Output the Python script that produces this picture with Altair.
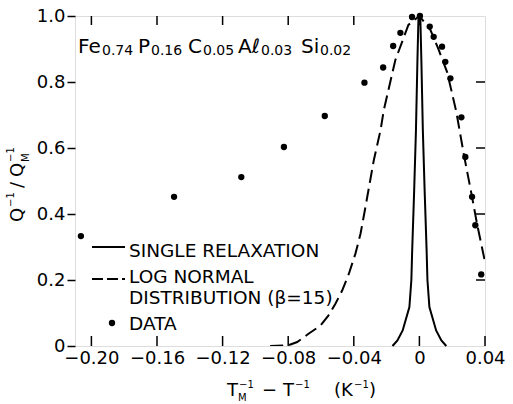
import altair as alt
import pandas as pd

# ---------------- data ----------------
data_x = [-0.2064, -0.1496, -0.1086, -0.0826, -0.0577, -0.0335, -0.0221, -0.0160, -0.0116,
          -0.0045, 0.0003, 0.0063, 0.0087, 0.0138, 0.0158, 0.0189, 0.0256, 0.0280, 0.0321,
          0.0341, 0.0377]
data_y = [0.333, 0.452, 0.512, 0.603, 0.697, 0.798, 0.844, 0.909, 0.949,
          0.997, 1.000, 0.968, 0.937, 0.907, 0.861, 0.811, 0.693, 0.573, 0.452,
          0.366, 0.217]

single_x = [-0.0164, -0.0134, -0.0102, -0.0061, -0.0049, -0.0044, -0.0032, -0.0021, -0.0012,
            -0.0006, 0.0, 0.0006, 0.0012, 0.0021, 0.0032, 0.0044, 0.0049, 0.0061, 0.0102,
            0.0134, 0.0164]
single_y = [0.0, 0.017, 0.047, 0.118, 0.20, 0.29, 0.47, 0.654, 0.866,
            0.988, 1.0, 0.988, 0.866, 0.654, 0.47, 0.29, 0.20, 0.118, 0.047,
            0.017, 0.0]

lognorm_x = [-0.091, -0.080, -0.0745, -0.0676, -0.0603, -0.0554, -0.0512, -0.0471, -0.043,
             -0.039, -0.0359, -0.0329, -0.0278, -0.0237, -0.0217, -0.0147, -0.0067, 0.0,
             0.0067, 0.0118, 0.0169, 0.0225, 0.027, 0.0321, 0.0351, 0.040]
lognorm_y = [0.0, 0.002, 0.012, 0.037, 0.062, 0.093, 0.128, 0.168, 0.219,
             0.28, 0.34, 0.421, 0.563, 0.654, 0.715, 0.866, 0.973, 1.0,
             0.958, 0.897, 0.830, 0.71, 0.583, 0.452, 0.371, 0.255]

x_ticks = [-0.20, -0.16, -0.12, -0.08, -0.04, 0.0, 0.04]
y_ticks = [0.0, 0.2, 0.4, 0.6, 0.8, 1.0]

comp_main = ["Fe", "P", "C", "Aℓ", "Si"]
comp_sub = ["0.74", "0.16", "0.05", "0.03", "0.02"]
legend_labels = ["SINGLE RELAXATION", "LOG NORMAL", "DISTRIBUTION (β=15)", "DATA"]
x_title_parts = ["T", "M", "−1", "−", "T", "−1", "(K", "−1", ")"]
y_title_parts = ["Q", "−1", "/", "Q", "−1", "M"]

# ---------------- layout ----------------
W, H = 410, 330
FONT = "DejaVu Sans"

xscale = alt.Scale(domain=[-0.21, 0.04], nice=False, zero=False)
yscale = alt.Scale(domain=[0.0, 1.0], nice=False, zero=False)
xaxis = alt.Axis(values=x_ticks,
                 labelExpr="datum.value == 0 ? '0' : format(datum.value, '.2f')",
                 ticks=False, domain=False, grid=False, labelPadding=3,
                 labelFontSize=18, labelFont=FONT, labelColor="black",
                 labelFlush=False, labelOverlap=False, title=None)
yaxis = alt.Axis(values=y_ticks,
                 labelExpr="datum.value == 0 ? '0' : format(datum.value, '.1f')",
                 tickSize=8, tickWidth=1.5, tickColor="black", domain=False, grid=False,
                 labelPadding=2, labelFontSize=18, labelFont=FONT, labelColor="black",
                 labelFlush=False, labelOverlap=False, title=None)


def X():
    return alt.X("x:Q", scale=xscale, axis=xaxis)


def Y():
    return alt.Y("y:Q", scale=yscale, axis=yaxis)


pts = alt.Chart(pd.DataFrame({"x": data_x, "y": data_y})).mark_circle(
    size=40, color="black", opacity=1).encode(x=X(), y=Y())

single = alt.Chart(pd.DataFrame({"x": single_x, "y": single_y})).mark_line(
    color="black", strokeWidth=2).encode(x=X(), y=Y())

lognorm = alt.Chart(pd.DataFrame({"x": lognorm_x, "y": lognorm_y})).mark_line(
    color="black", strokeWidth=2, strokeDash=[13, 6], clip=True).encode(x=X(), y=Y())

# inward ticks on bottom, top and right
bt = alt.Chart(pd.DataFrame({"x": x_ticks})).mark_rule(color="black", strokeWidth=1.5).encode(
    x=X(), y=alt.value(H), y2=alt.value(H - 10))
tt = alt.Chart(pd.DataFrame({"x": x_ticks[:-1]})).mark_rule(color="black", strokeWidth=1.5).encode(
    x=X(), y=alt.value(0), y2=alt.value(9))
rt = alt.Chart(pd.DataFrame({"y": y_ticks[1:-1]})).mark_rule(color="black", strokeWidth=1.5).encode(
    y=Y(), x=alt.value(W), x2=alt.value(W - 9))


def txt(s, x, y, size, angle=0):
    kw = dict(align="left", baseline="alphabetic", font=FONT, fontSize=size, color="black")
    if angle:
        kw["angle"] = angle
    return alt.Chart(pd.DataFrame({"t": [s]})).mark_text(**kw).encode(
        x=alt.value(x), y=alt.value(y), text="t:N")


layers = [single, lognorm, pts, bt, tt, rt]

# composition label
main_x = [3, 63, 113, 163, 226]
sub_x = [27, 76, 128, 186, 245]
for m, s, mx, sx in zip(comp_main, comp_sub, main_x, sub_x):
    layers.append(txt(m, mx, 37, 20))
    layers.append(txt(s, sx, 39, 14))

# legend
leg_solid = alt.Chart(pd.DataFrame({"t": [0]})).mark_rule(color="black", strokeWidth=2).encode(
    x=alt.value(17), x2=alt.value(50), y=alt.value(231))
leg_dash = alt.Chart(pd.DataFrame({"t": [0]})).mark_rule(
    color="black", strokeWidth=2, strokeDash=[11, 4]).encode(
    x=alt.value(17), x2=alt.value(50), y=alt.value(263))
leg_dot = alt.Chart(pd.DataFrame({"t": [0]})).mark_circle(size=40, color="black", opacity=1).encode(
    x=alt.value(37), y=alt.value(307))
layers += [leg_solid, leg_dash, leg_dot]
for lab, by in zip(legend_labels, [241, 267, 288, 314]):
    layers.append(txt(lab, 54, by, 18.5))

# x-axis title
xt_pos = [(152, 380, 18), (163, 385, 10), (164, 372, 10), (187, 380, 18), (208, 380, 18),
          (220, 372, 10), (259, 380, 18), (279, 372, 10), (294, 380, 18)]
for p, (px, py, fs) in zip(x_title_parts, xt_pos):
    layers.append(txt(p, px, py, fs))

# y-axis title (rotated)
yt_pos = [(-52, 206, 18), (-61, 191, 10), (-52, 172, 18), (-52, 161, 18), (-61, 146, 10),
          (-46, 146, 10)]
for p, (px, py, fs) in zip(y_title_parts, yt_pos):
    layers.append(txt(p, px, py, fs, angle=270))

chart = alt.layer(*layers).properties(
    width=W, height=H,
    padding={"left": 75, "top": 16, "right": 28, "bottom": 58},
    autosize=alt.AutoSizeParams(type="none"),
).configure_view(stroke="black", strokeWidth=1.5).configure(background="white")

chart.save("out.html", embed_options={"renderer": "svg", "actions": False})
